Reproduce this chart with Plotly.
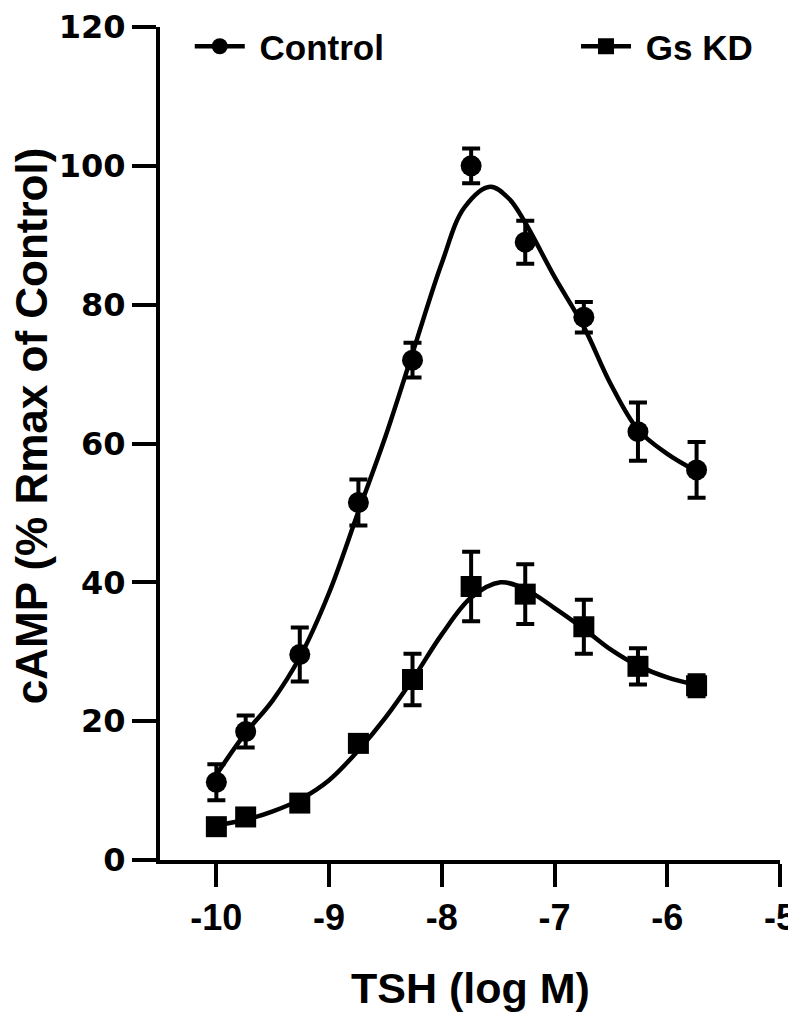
import plotly.graph_objects as go

# ---- data ----
log_tsh = [-10.0, -9.74, -9.26, -8.74, -8.26, -7.74, -7.26, -6.74, -6.26, -5.74]
control_mean = [11.2, 18.5, 29.6, 51.5, 72.0, 100.0, 89.0, 78.2, 61.7, 56.2]
control_sem = [2.6, 2.3, 3.9, 3.3, 2.5, 2.5, 3.1, 2.2, 4.2, 4.0]
gskd_mean = [4.8, 6.2, 8.2, 16.8, 26.0, 39.4, 38.3, 33.6, 27.9, 25.1]
gskd_sem = [0.8, 0.8, 0.8, 1.0, 3.7, 5.0, 4.3, 3.9, 2.6, 1.5]

# fitted curves
control_fit_x = [-10.0, -9.74, -9.5, -9.26, -9.0, -8.74, -8.5, -8.26, -8.0, -7.8, -7.57, -7.4, -7.26, -7.0, -6.74, -6.5, -6.26, -6.0, -5.74]
control_fit_y = [12.3, 18.3, 23.0, 29.2, 38.5, 50.2, 61.0, 73.0, 86.0, 94.0, 97.0, 95.2, 91.8, 84.0, 76.8, 68.5, 62.0, 58.5, 56.0]
gskd_fit_x = [-10.0, -9.74, -9.5, -9.26, -9.0, -8.74, -8.5, -8.26, -8.0, -7.74, -7.48, -7.26, -7.0, -6.74, -6.5, -6.26, -6.0, -5.74]
gskd_fit_y = [5.0, 5.8, 7.0, 8.7, 11.5, 15.8, 20.5, 26.0, 32.5, 37.8, 40.0, 39.0, 36.3, 33.3, 30.3, 28.0, 26.3, 25.2]

x_ticks = [-10, -9, -8, -7, -6, -5]
y_ticks = [0, 20, 40, 60, 80, 100, 120]

series_names = ["Control", "Gs KD"]

fig = go.Figure()

# curves
fig.add_trace(go.Scatter(x=control_fit_x, y=control_fit_y, mode="lines",
                         line=dict(color="black", width=4.5, shape="spline", smoothing=1.0),
                         showlegend=False, hoverinfo="skip"))
fig.add_trace(go.Scatter(x=gskd_fit_x, y=gskd_fit_y, mode="lines",
                         line=dict(color="black", width=4.5, shape="spline", smoothing=1.0),
                         showlegend=False, hoverinfo="skip"))

# data points with error bars
fig.add_trace(go.Scatter(x=log_tsh, y=control_mean, mode="markers",
                         marker=dict(symbol="circle", size=21, color="black"),
                         error_y=dict(type="data", array=control_sem, color="black",
                                      thickness=4, width=9),
                         showlegend=False))
fig.add_trace(go.Scatter(x=log_tsh, y=gskd_mean, mode="markers",
                         marker=dict(symbol="square", size=21, color="black"),
                         error_y=dict(type="data", array=gskd_sem, color="black",
                                      thickness=4, width=9),
                         showlegend=False))

# legend entries
fig.add_trace(go.Scatter(x=[None], y=[None], mode="lines+markers", name=" " + series_names[0],
                         line=dict(color="black", width=4.5), legend="legend",
                         marker=dict(symbol="circle", size=17, color="black")))
fig.add_trace(go.Scatter(x=[None], y=[None], mode="lines+markers", name=" " + series_names[1],
                         line=dict(color="black", width=4.5), legend="legend2",
                         marker=dict(symbol="square", size=19, color="black")))

legend_font = dict(family="Liberation Sans", size=35, color="black", weight="bold")

# page is rendered with an 8px body margin: margins compensate for that,
# and overflow is hidden so the extra width/height does not add scrollbars
fig.update_layout(
    width=796, height=1012,
    margin=dict(l=152, r=24, t=9, b=160),
    paper_bgcolor="white", plot_bgcolor="white",
    legend=dict(x=0.048, y=1.012, xanchor="left", yanchor="top", font=legend_font,
                itemwidth=50, bgcolor="rgba(0,0,0,0)"),
    legend2=dict(x=0.671, y=1.012, xanchor="left", yanchor="top", font=legend_font,
                 itemwidth=50, bgcolor="rgba(0,0,0,0)"),
    xaxis=dict(range=[-10.5, -5], tickvals=x_ticks, ticktext=[str(v) for v in x_ticks],
               showline=True, linecolor="black", linewidth=4, ticks="outside",
               ticklen=23, tickwidth=4, tickcolor="black", showgrid=False, zeroline=False,
               automargin=False, ticklabeloverflow="allow",
               tickfont=dict(family="Liberation Sans", size=36, color="black", weight="bold")),
    yaxis=dict(range=[0, 120], tickvals=y_ticks, ticktext=[str(v) for v in y_ticks],
               showline=True, linecolor="black", linewidth=4, ticks="outside",
               ticklen=24, tickwidth=4, tickcolor="black", showgrid=False, zeroline=False,
               automargin=False, ticklabeloverflow="allow",
               tickfont=dict(family="DejaVu Sans", size=32, color="black", weight="bold")),
    annotations=[
        dict(text="TSH (log M)", xref="paper", yref="paper",
             x=0.5, y=-(990 - 860) / 843, xanchor="center", yanchor="middle",
             showarrow=False, font=dict(family="Liberation Sans", size=43, color="black", weight="bold")),
        dict(text="cAMP (% Rmax of Control)", xref="paper", yref="paper",
             x=-(160 - 31) / 620, y=(860 - 421) / 843, xanchor="center", yanchor="middle",
             textangle=-90, showarrow=False,
             font=dict(family="Liberation Sans", size=44, color="black", weight="bold")),
    ],
)

fig.write_html(
    "out.html",
    post_script="document.documentElement.style.overflow='hidden';document.body.style.overflow='hidden';",
)
